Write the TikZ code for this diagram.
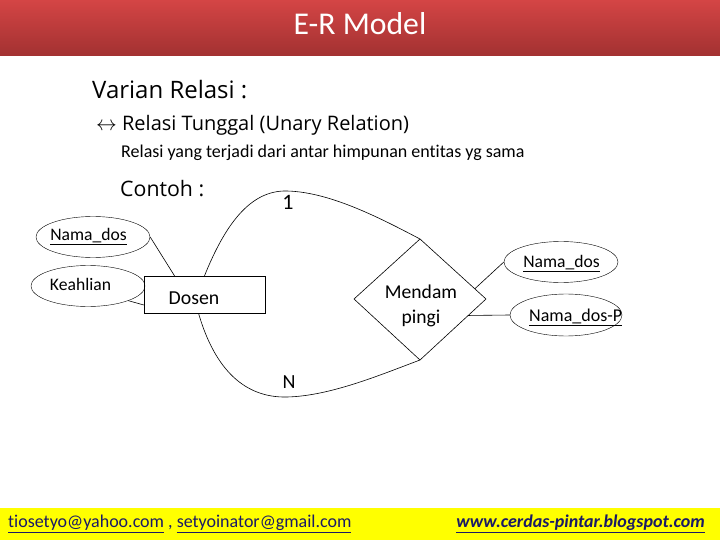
\documentclass[tikz,border=0pt]{standalone}
\usepackage{fontspec}
\setmainfont{Carlito}[Ligatures=NoCommon]
\newfontfamily\comic{Open Sans}
\usetikzlibrary{shapes.geometric,calc}
\definecolor{hdtop}{HTML}{D44545}
\definecolor{hdbot}{HTML}{A23131}
\definecolor{foot}{HTML}{FFFF00}
\definecolor{linkc}{HTML}{1A1A66}
\tikzset{
  attr/.style={draw, ellipse, inner sep=0pt, minimum width=114pt, minimum height=41pt},
  ent/.style={draw, rectangle, minimum width=121pt, minimum height=37pt, inner sep=0pt},
  lbl/.style={inner sep=0pt, anchor=west},
  attrtxt/.style={inner sep=0pt, font=\fontsize{17.6}{20}\selectfont},
  con/.style={line width=0.6pt}
}
\begin{document}
\begin{tikzpicture}[x=1pt,y=-1pt]
\useasboundingbox (0,0) rectangle (720,540);
% header
\shade[top color=hdtop, bottom color=hdbot] (0,0) rectangle (720,56);
\node[text=white, font=\fontsize{31.7}{36}\selectfont] (title) at (360,24) {E-R Model};
% footer
\fill[foot] (0,508) rectangle (720,540);
\node[lbl, text=linkc, font=\fontsize{18}{20}\selectfont] (mail) at (8,524) {\underline{tiosetyo@yahoo.com} , \underline{setyoinator@gmail.com}};
\node[inner sep=0pt, anchor=east, text=linkc, font=\fontsize{18}{20}\selectfont\bfseries\itshape] (web) at (705,524) {\underline{www.cerdas-pintar.blogspot.com}};
% texts
\node[lbl, font=\comic\fontsize{24}{28}\selectfont] (varian) at (92,90) {Varian Relasi :};
\node[lbl, font=\comic\fontsize{20}{24}\selectfont] (tunggal) at (96,125) {$\leftrightarrow$ Relasi Tunggal (Unary Relation)};
\node[lbl, font=\fontsize{18}{21}\selectfont] (desc) at (121,153) {Relasi yang terjadi dari antar himpunan entitas yg sama};
\node[lbl, font=\comic\fontsize{21.3}{24}\selectfont] (contoh) at (120,189) {Contoh :};
% entities and attributes
\node[attr] (nd1) at (93,237) {};
\node[attrtxt] (nd1t) at (88.5,237) {\underline{Nama\_dos}};
\node[attr] (keah) at (88,286) {};
\node[attrtxt] (keaht) at (80.5,284) {Keahlian};
\node[ent] (dosen) at (204.5,294.5) {};
\node[inner sep=0pt, font=\fontsize{19.8}{22}\selectfont] (dosent) at (194,298) {Dosen};
% relationship diamond
\coordinate (dt) at (420,239);
\coordinate (dr) at (486,299);
\coordinate (db) at (420,360);
\coordinate (dl) at (354,299);
\draw[con] (dt) -- (dr) -- (db) -- (dl) -- cycle;
\node[inner sep=0pt, align=center, font=\fontsize{19.6}{25}\selectfont] (relt) at (421,306) {Mendam\\pingi};
\node[attr] (nd2) at (561,262) {};
\node[attrtxt] (nd2t) at (561.5,264) {\underline{Nama\_dos}};
\node[attr, minimum width=112pt, minimum height=42pt] (ndp) at (566,315) {};
\node[lbl, font=\fontsize{18}{20}\selectfont] (ndpt) at (529,317) {\underline{Nama\_dos-P}};
\node[inner sep=0pt, font=\fontsize{22}{24}\selectfont] (one) at (288,202) {1};
\node[inner sep=0pt, font=\fontsize{20}{24}\selectfont] (n) at (289,382) {N};
% connectors
\draw[con] (nd1.east) -- ([xshift=-30pt]dosen.north);
\draw[con] (keah.-20) -- ([yshift=-10.5pt]dosen.west);
\draw[con] (dosen.north) .. controls (225,225) and (250,190) .. (287,191)
  .. controls (330,192) and (380,218) .. (dt);
\draw[con] ([xshift=-6pt]dosen.south) .. controls (215,370) and (245,398) .. (287,397)
  .. controls (330,396) and (380,375) .. (db);
\draw[con] ($(dt)!0.83!(dr)$) -- (nd2.west);
\draw[con] ($(dr)!0.27!(db)$) -- (ndp.west);
\end{tikzpicture}
\end{document}
